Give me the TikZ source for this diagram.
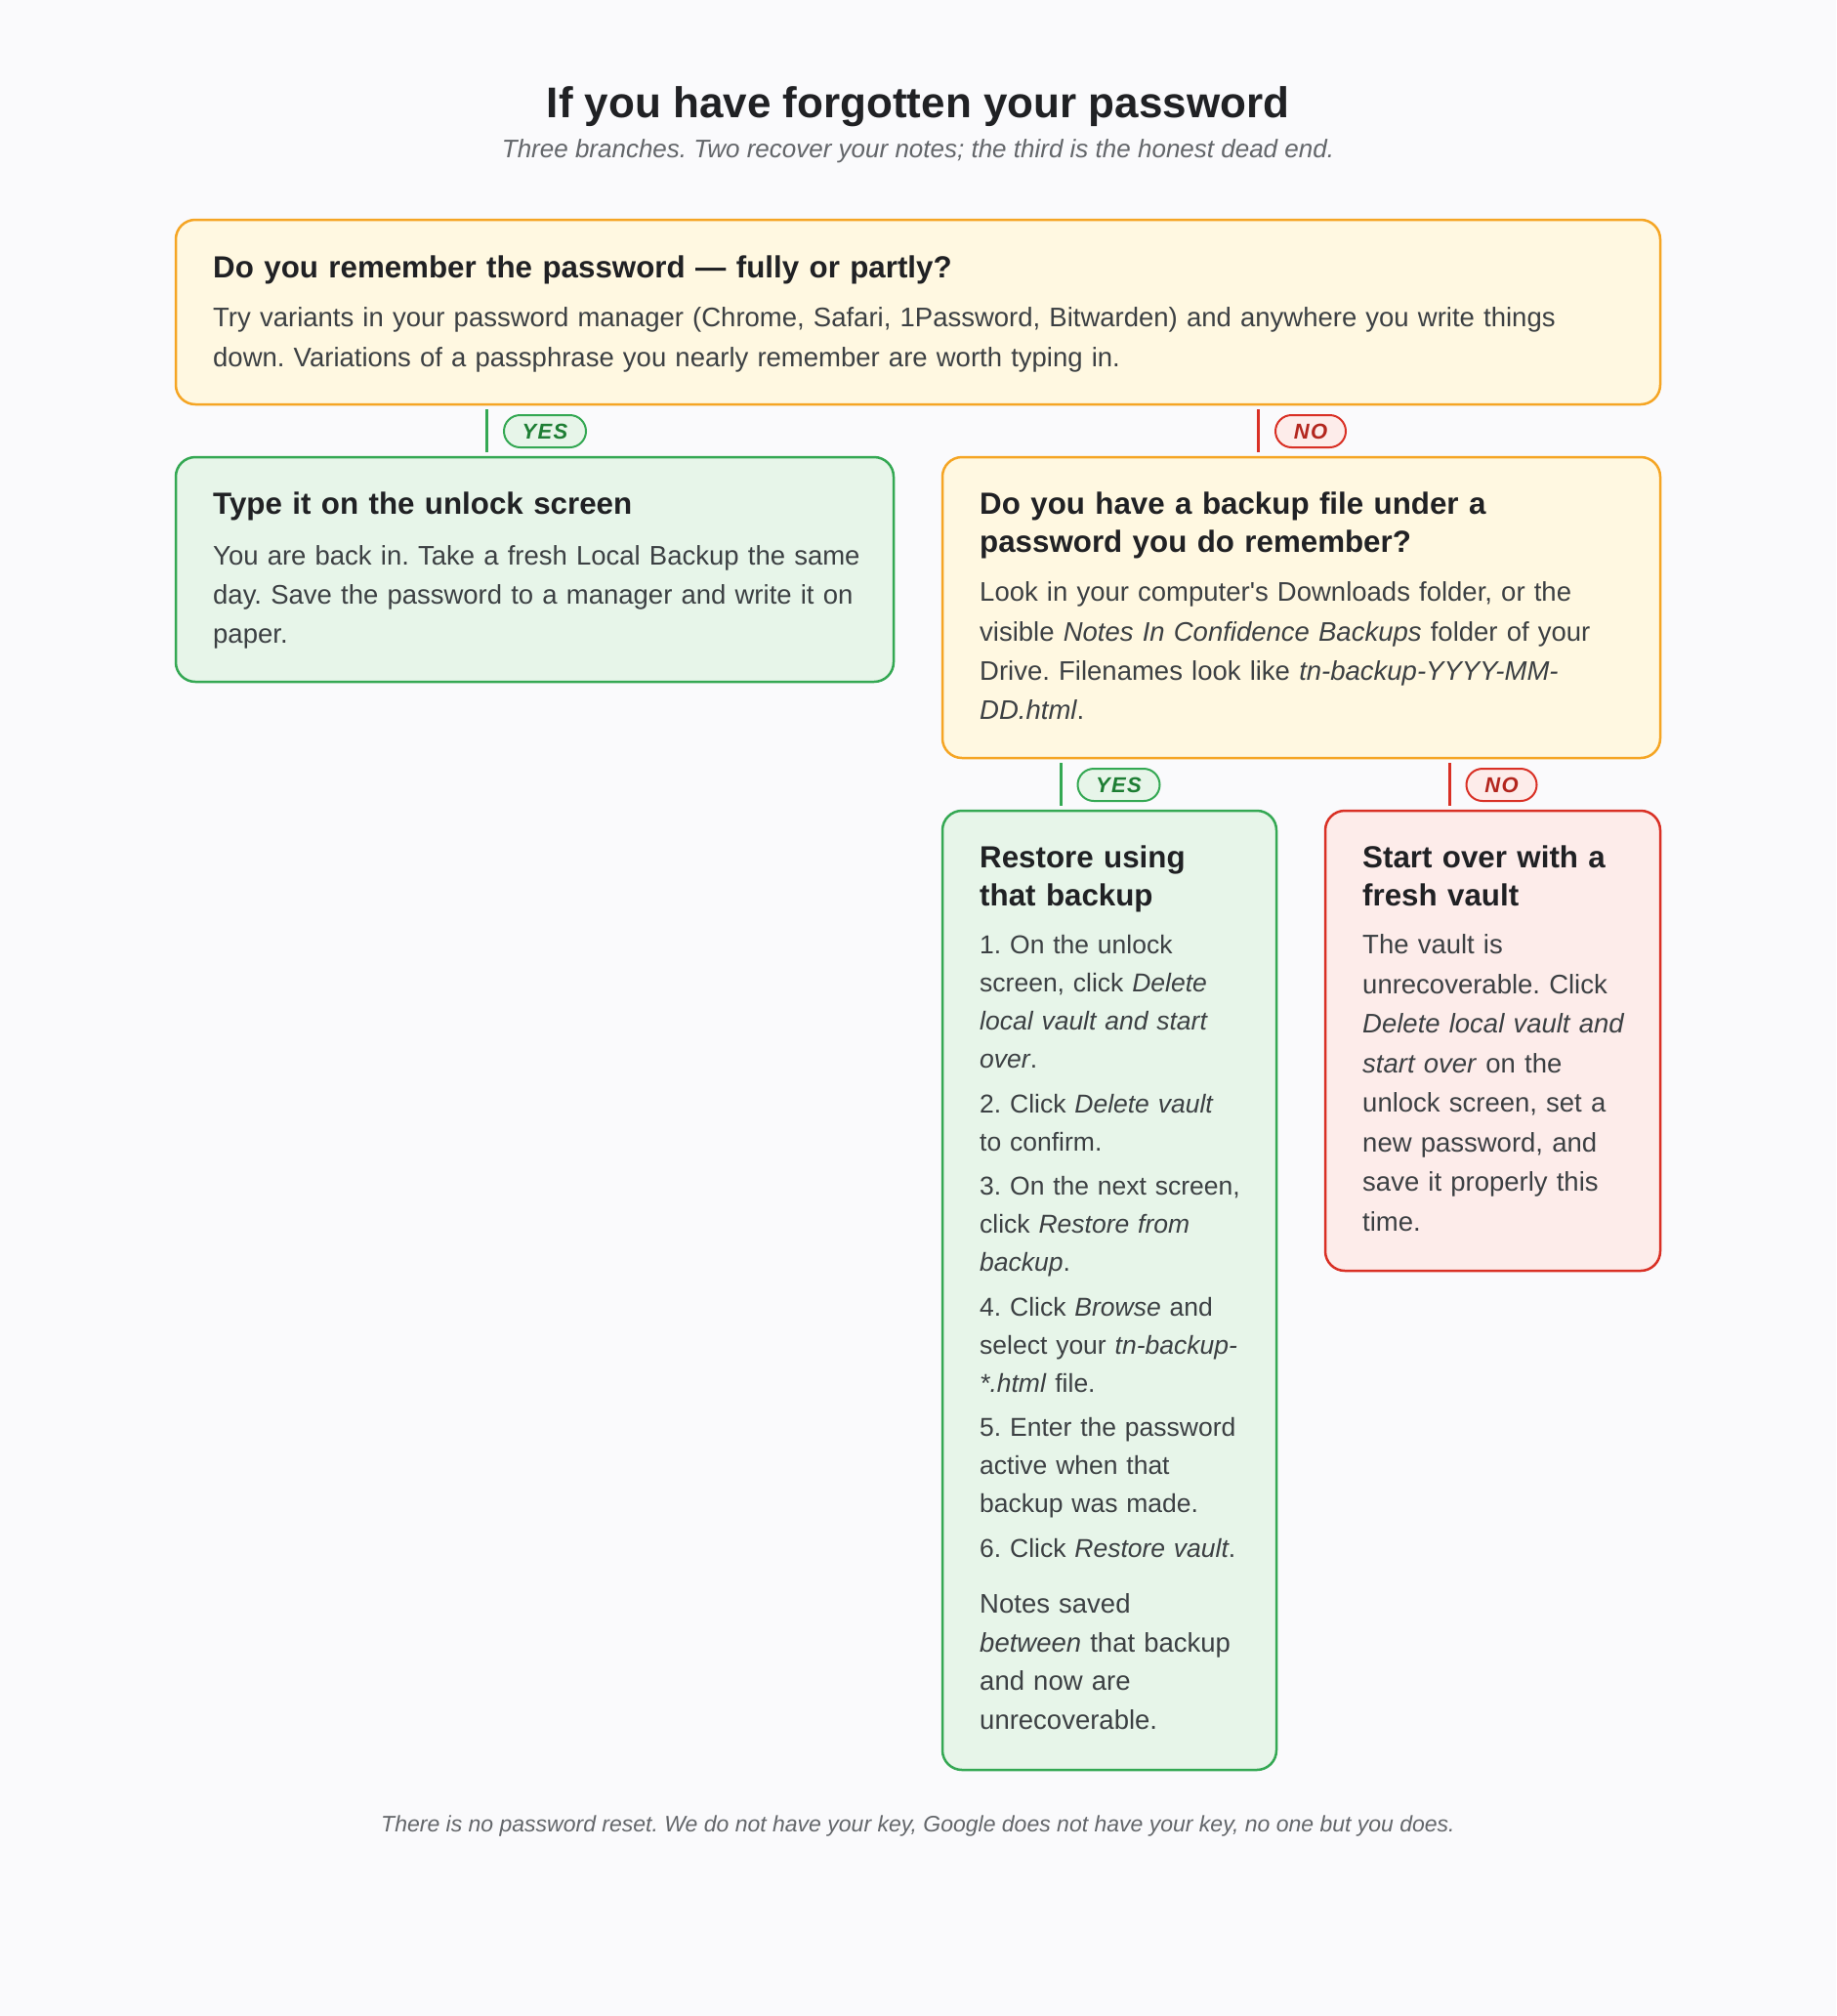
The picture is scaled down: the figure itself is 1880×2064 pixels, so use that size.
\documentclass[tikz,border=0pt]{standalone}
\usepackage{fontspec}
\setmainfont{Liberation Sans}[Ligatures=TeXOff]
\frenchspacing
\definecolor{bgc}{HTML}{FAFAFC}
\definecolor{ybord}{HTML}{F5A524}
\definecolor{yfill}{HTML}{FFF8E1}
\definecolor{gbord}{HTML}{34A853}
\definecolor{gfill}{HTML}{E7F5E9}
\definecolor{rbord}{HTML}{D93025}
\definecolor{rfill}{HTML}{FDECEA}
\definecolor{yestext}{HTML}{1E7E34}
\definecolor{notext}{HTML}{B3261E}
\definecolor{headc}{HTML}{202124}
\definecolor{bodyc}{HTML}{3C4043}
\definecolor{subc}{HTML}{63666A}
\newcommand\hstrut{\noindent\vrule height 34pt width 0pt depth 0pt\relax}
\newcommand\bstrut{\noindent\vrule height 28pt width 0pt depth 0pt\relax}
\tikzset{
  box/.style={draw, line width=2.5pt, rounded corners=20pt, inner sep=0pt, outer sep=0pt, anchor=north west},
  ybox/.style={box, draw=ybord, fill=yfill},
  gbox/.style={box, draw=gbord, fill=gfill},
  rbox/.style={box, draw=rbord, fill=rfill},
  head/.style={anchor=north west, yshift=34pt, inner sep=0pt, align=left, text width=1500pt, text=headc, font=\bfseries\fontsize{31.3}{38.4}\selectfont},
  body/.style={anchor=north west, yshift=28pt, inner sep=0pt, align=left, text width=1500pt, text=bodyc, font=\fontsize{27.5}{#1}\selectfont},
  libody/.style={anchor=north west, yshift=28pt, inner sep=0pt, align=left, text width=1500pt, text=bodyc, font=\fontsize{26.5}{#1}\selectfont},
  pill/.style={draw, line width=2pt, rounded corners=16.5pt, minimum height=33pt, inner sep=0pt, font=\bfseries\itshape\fontsize{22}{22}\selectfont\addfontfeature{LetterSpace=6}},
  yespill/.style={pill, draw=gbord, fill=gfill, text=yestext, minimum width=84pt},
  nopill/.style={pill, draw=rbord, fill=rfill, text=notext, minimum width=72pt},
  gbar/.style={draw=gbord, line width=3pt, shorten <=5pt, shorten >=5pt},
  rbar/.style={draw=rbord, line width=3pt, shorten <=5pt, shorten >=5pt}
}
\begin{document}
\begin{tikzpicture}[x=1pt, y=-1pt]
\fill[bgc] (0,0) rectangle (1880,2064);
\useasboundingbox (0,0) rectangle (1880,2064);

% title
\node[anchor=base, inner sep=0pt, text=headc, font=\bfseries\fontsize{44}{52}\selectfont] (title) at (940,120.7) {If you have forgotten your password};
\node[anchor=base, inner sep=0pt, text=subc, font=\itshape\fontsize{26}{30}\selectfont] (subtitle) at (940,161.7) {Three branches. Two recover your notes; the third is the honest dead end.};

% boxes
\node[ybox, minimum width=1520pt, minimum height=189pt] (q1) at (180,225) {};
\node[gbox, minimum width=735pt, minimum height=230pt] (typeit) at (180,468) {};
\node[ybox, minimum width=735pt, minimum height=308pt] (q2) at (965,468) {};
\node[gbox, minimum width=342pt, minimum height=982pt] (restore) at (965,830) {};
\node[rbox, minimum width=343pt, minimum height=471pt] (fresh) at (1357,830) {};

% box 1 text
\node[head] (q1h) at (218,284) {\hstrut Do you remember the password — fully or partly?};
\node[body=40.3] (q1b) at (218,334.5) {\bstrut Try variants in your password manager (Chrome, Safari, 1Password, Bitwarden) and anywhere you write things\\down. Variations of a passphrase you nearly remember are worth typing in.};

% box 2 text
\node[head] (typeith) at (218,526.7) {\hstrut Type it on the unlock screen};
\node[body=40] (typeitb) at (218,578.3) {\bstrut You are back in. Take a fresh Local Backup the same\\day. Save the password to a manager and write it on\\paper.};

% box 3 text
\node[head] (q2h) at (1003,526.7) {\hstrut Do you have a backup file under a\\password you do remember?};
\node[body=40.3] (q2b) at (1003,615.7) {\bstrut Look in your computer's Downloads folder, or the\\visible \textit{Notes In Confidence Backups} folder of your\\Drive. Filenames look like \textit{tn-backup-YYYY-MM-}\\\textit{DD.html}.};

% box 4 text
\node[head] (restoreh) at (1003,888.5) {\hstrut Restore using\\that backup};
\node[libody=39] (restores) at (1003,976.7) {\bstrut 1. On the unlock\\screen, click \textit{Delete}\\\textit{local vault and start}\\\textit{over}.\\[6.5pt]
2. Click \textit{Delete vault}\\to confirm.\\[6.5pt]
3. On the next screen,\\click \textit{Restore from}\\\textit{backup}.\\[6.5pt]
4. Click \textit{Browse} and\\select your \textit{tn-backup-}\\\textit{*.html} file.\\[6.5pt]
5. Enter the password\\active when that\\backup was made.\\[6.5pt]
6. Click \textit{Restore vault}.};
\node[body=39.6] (restoren) at (1003,1651.2) {\bstrut Notes saved\\\textit{between} that backup\\and now are\\unrecoverable.};

% box 5 text
\node[head] (freshh) at (1395,888.5) {\hstrut Start over with a\\fresh vault};
\node[body=40.5] (freshb) at (1395,976.7) {\bstrut The vault is\\unrecoverable. Click\\\textit{Delete local vault and}\\\textit{start over} on the\\unlock screen, set a\\new password, and\\save it properly this\\time.};

% connectors
\coordinate (c1) at (498,0);
\coordinate (c2) at (1288,0);
\coordinate (c3) at (1086,0);
\coordinate (c4) at (1484,0);
\draw[gbar] (q1.south -| c1) -- (typeit.north -| c1);
\draw[rbar] (q1.south -| c2) -- (q2.north -| c2);
\draw[gbar] (q2.south -| c3) -- (restore.north -| c3);
\draw[rbar] (q2.south -| c4) -- (fresh.north -| c4);
\node[yespill] (yes1) at (558,441.5) {YES};
\node[nopill] (no1) at (1342,441.5) {NO};
\node[yespill] (yes2) at (1145.5,803.5) {YES};
\node[nopill] (no2) at (1537.5,803.5) {NO};

% footer
\node[anchor=base, inner sep=0pt, text=subc, font=\itshape\fontsize{23}{27}\selectfont] (footer) at (940,1875) {There is no password reset. We do not have your key, Google does not have your key, no one but you does.};
\end{tikzpicture}
\end{document}
